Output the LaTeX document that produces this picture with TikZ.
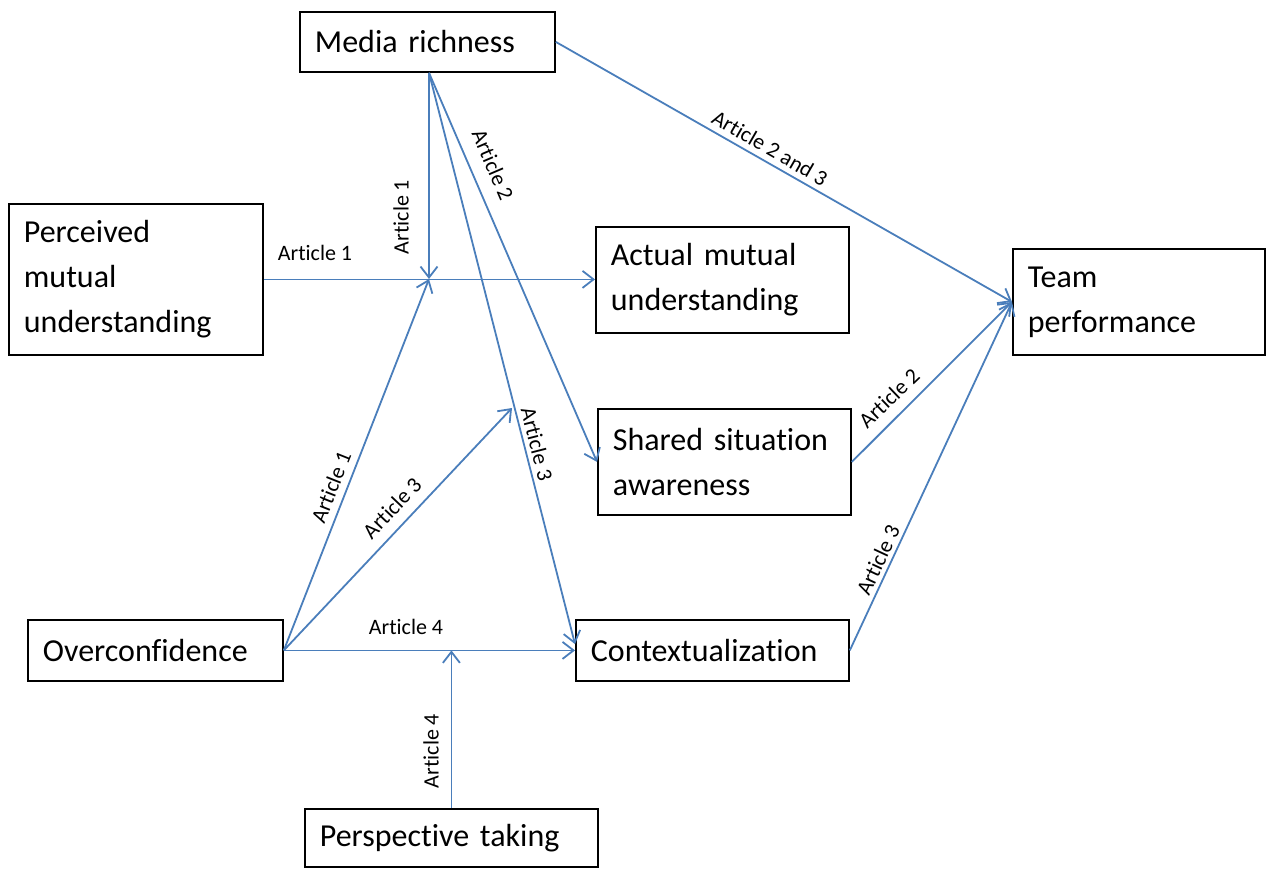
\documentclass[tikz,border=0pt]{standalone}
\usepackage{fontspec}
\setmainfont[Ligatures=NoCommon]{Carlito}
\usetikzlibrary{arrows.meta,calc}
\definecolor{lineblue}{RGB}{74,126,187}
\begin{document}
\begin{tikzpicture}[x=1pt,y=-1pt,
  bx/.style={draw=black, line width=1.8pt, anchor=north west, inner xsep=15pt, inner ysep=0pt, align=left, font=\fontsize{32}{45}\selectfont},
  conn/.style={draw=lineblue, line width=1.8pt, -{Straight Barb[length=11pt,width=17pt]}},
  lbl/.style={inner sep=0pt, font=\fontsize{22}{26}\selectfont}]
\useasboundingbox (0,0) rectangle (1266,869);
% boxes
\node[bx, text width=225pt, minimum height=60pt] (media) at (299,11) {Media richness};
\node[bx, text width=224pt, minimum height=151pt] (perc) at (8,203) {Perceived\\mutual\\understanding};
\node[bx, text width=223pt, minimum height=106pt] (actual) at (595,226) {Actual mutual\\understanding};
\node[bx, text width=222pt, minimum height=106pt] (team) at (1012,248) {Team\\performance};
\node[bx, text width=223pt, minimum height=106pt] (shared) at (597,408) {Shared situation\\awareness};
\node[bx, text width=225pt, minimum height=61pt] (over) at (27,619) {Overconfidence};
\node[bx, text width=243pt, minimum height=61pt] (context) at (575,619) {Contextualization};
\node[bx, text width=263pt, minimum height=58pt] (persp) at (304,808) {Perspective taking};
% helper points
\coordinate (j) at (429,279);
\coordinate (k) at (512,408);
\coordinate (mb) at (media.south -| j);
\coordinate (m) at (persp.north |- over.east);
\coordinate (ctip) at ($(context.north west)!0.4!(context.south west)$);
% connectors
\draw[conn] (perc.east) -- (perc.east -| actual.west);
\draw[conn] (mb) -- (j);
\draw[conn] (over.east) -- (j);
\draw[conn] (over.east) -- (k);
\draw[conn] (over.east) -- (context.west);
\draw[conn] (persp.north) -- (m);
\draw[conn] (mb) -- (shared.west);
\draw[conn] (mb) -- (ctip);
\draw[conn] (media.east) -- (team.west);
\draw[conn] (shared.east) -- (team.west);
\draw[conn] (context.east) -- (team.west);
% labels
\node[lbl] (l1) at (315,253) {Article 1};
\node[lbl, rotate=90] (l2) at (401,217) {Article 1};
\node[lbl, rotate=-66.8] (l3) at (493,165) {Article 2};
\node[lbl, rotate=-30] (l4) at (770,148) {Article 2 and 3};
\node[lbl, rotate=68.4] (l5) at (331,487) {Article 1};
\node[lbl, rotate=46.5] (l6) at (392,508) {Article 3};
\node[lbl, rotate=-75.7] (l7) at (537,444) {Article 3};
\node[lbl] (l8) at (406,627) {Article 4};
\node[lbl, rotate=90] (l9) at (431,751) {Article 4};
\node[lbl, rotate=43.7] (l10) at (889,398) {Article 2};
\node[lbl, rotate=65] (l11) at (878,560) {Article 3};
\end{tikzpicture}
\end{document}
